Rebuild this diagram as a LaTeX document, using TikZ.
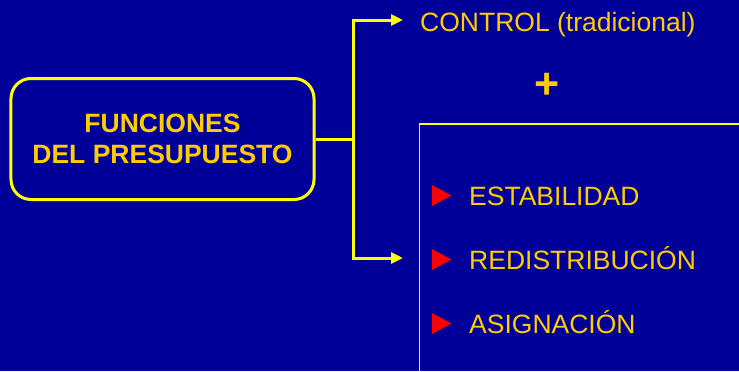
\documentclass[tikz,border=0pt]{standalone}
\usepackage{fontspec}
\setmainfont{Liberation Sans}
\usetikzlibrary{arrows.meta,positioning}
\usepackage{xcolor}
\definecolor{fondo}{HTML}{000099}
\definecolor{oro}{HTML}{FFCC00}
\definecolor{amarillo}{HTML}{FFFF00}
\definecolor{rojo}{HTML}{FF0000}
\tikzset{
  caja/.style={draw=amarillo, line width=3bp, rounded corners=20bp,
    minimum width=303bp, minimum height=121bp, align=center,
    text=oro, font=\fontsize{26.5bp}{31.5bp}\selectfont\bfseries},
  texto/.style={anchor=base west, inner sep=0pt, text=oro,
    font=\fontsize{26.5bp}{31.5bp}\selectfont},
  flecha/.style={draw=amarillo, line width=3bp,
    -{Triangle[length=12bp,width=11bp]}}
}
\begin{document}
\begin{tikzpicture}[x=1bp,y=-1bp]
        \fill[fondo] (0,0) rectangle (739,371);
        \useasboundingbox (0,0) rectangle (739,371);
        % caja principal
        \node[caja] (funciones) at (162.5,139) {FUNCIONES\\DEL PRESUPUESTO};
        % control
        \node[texto] (control) at (420,31.7) {CONTROL (tradicional)};
        \node[text=oro, inner sep=0pt, font=\fontsize{43bp}{43bp}\selectfont\bfseries] (mas) at (547,86) {+};
        % recuadro de la derecha
        \draw[amarillo, line width=1.5bp] (741,124) -- (419.3,124) -- (419.3,373);
        % conectores
        \coordinate (rama) at ([xshift=37.7bp]funciones.east);
        \coordinate (puntaarriba) at (403,20);
        \coordinate (puntaabajo) at (403,258);
        \draw[amarillo, line width=3bp] (funciones.east) -- (rama);
        \draw[flecha] (rama) |- (puntaarriba);
        \draw[flecha] (rama) |- (puntaabajo);
        % lista de funciones
        \foreach \y/\t [count=\i] in {205/ESTABILIDAD, 269/REDISTRIBUCIÓN, 333/ASIGNACIÓN}
        {
        \fill[rojo] (432,\y-20) -- (451.5,\y-9.5) -- (432,\y+1) -- cycle;
        \node[texto] (item\i) at (469,\y) {\t};
        }
\end{tikzpicture}
\end{document}
